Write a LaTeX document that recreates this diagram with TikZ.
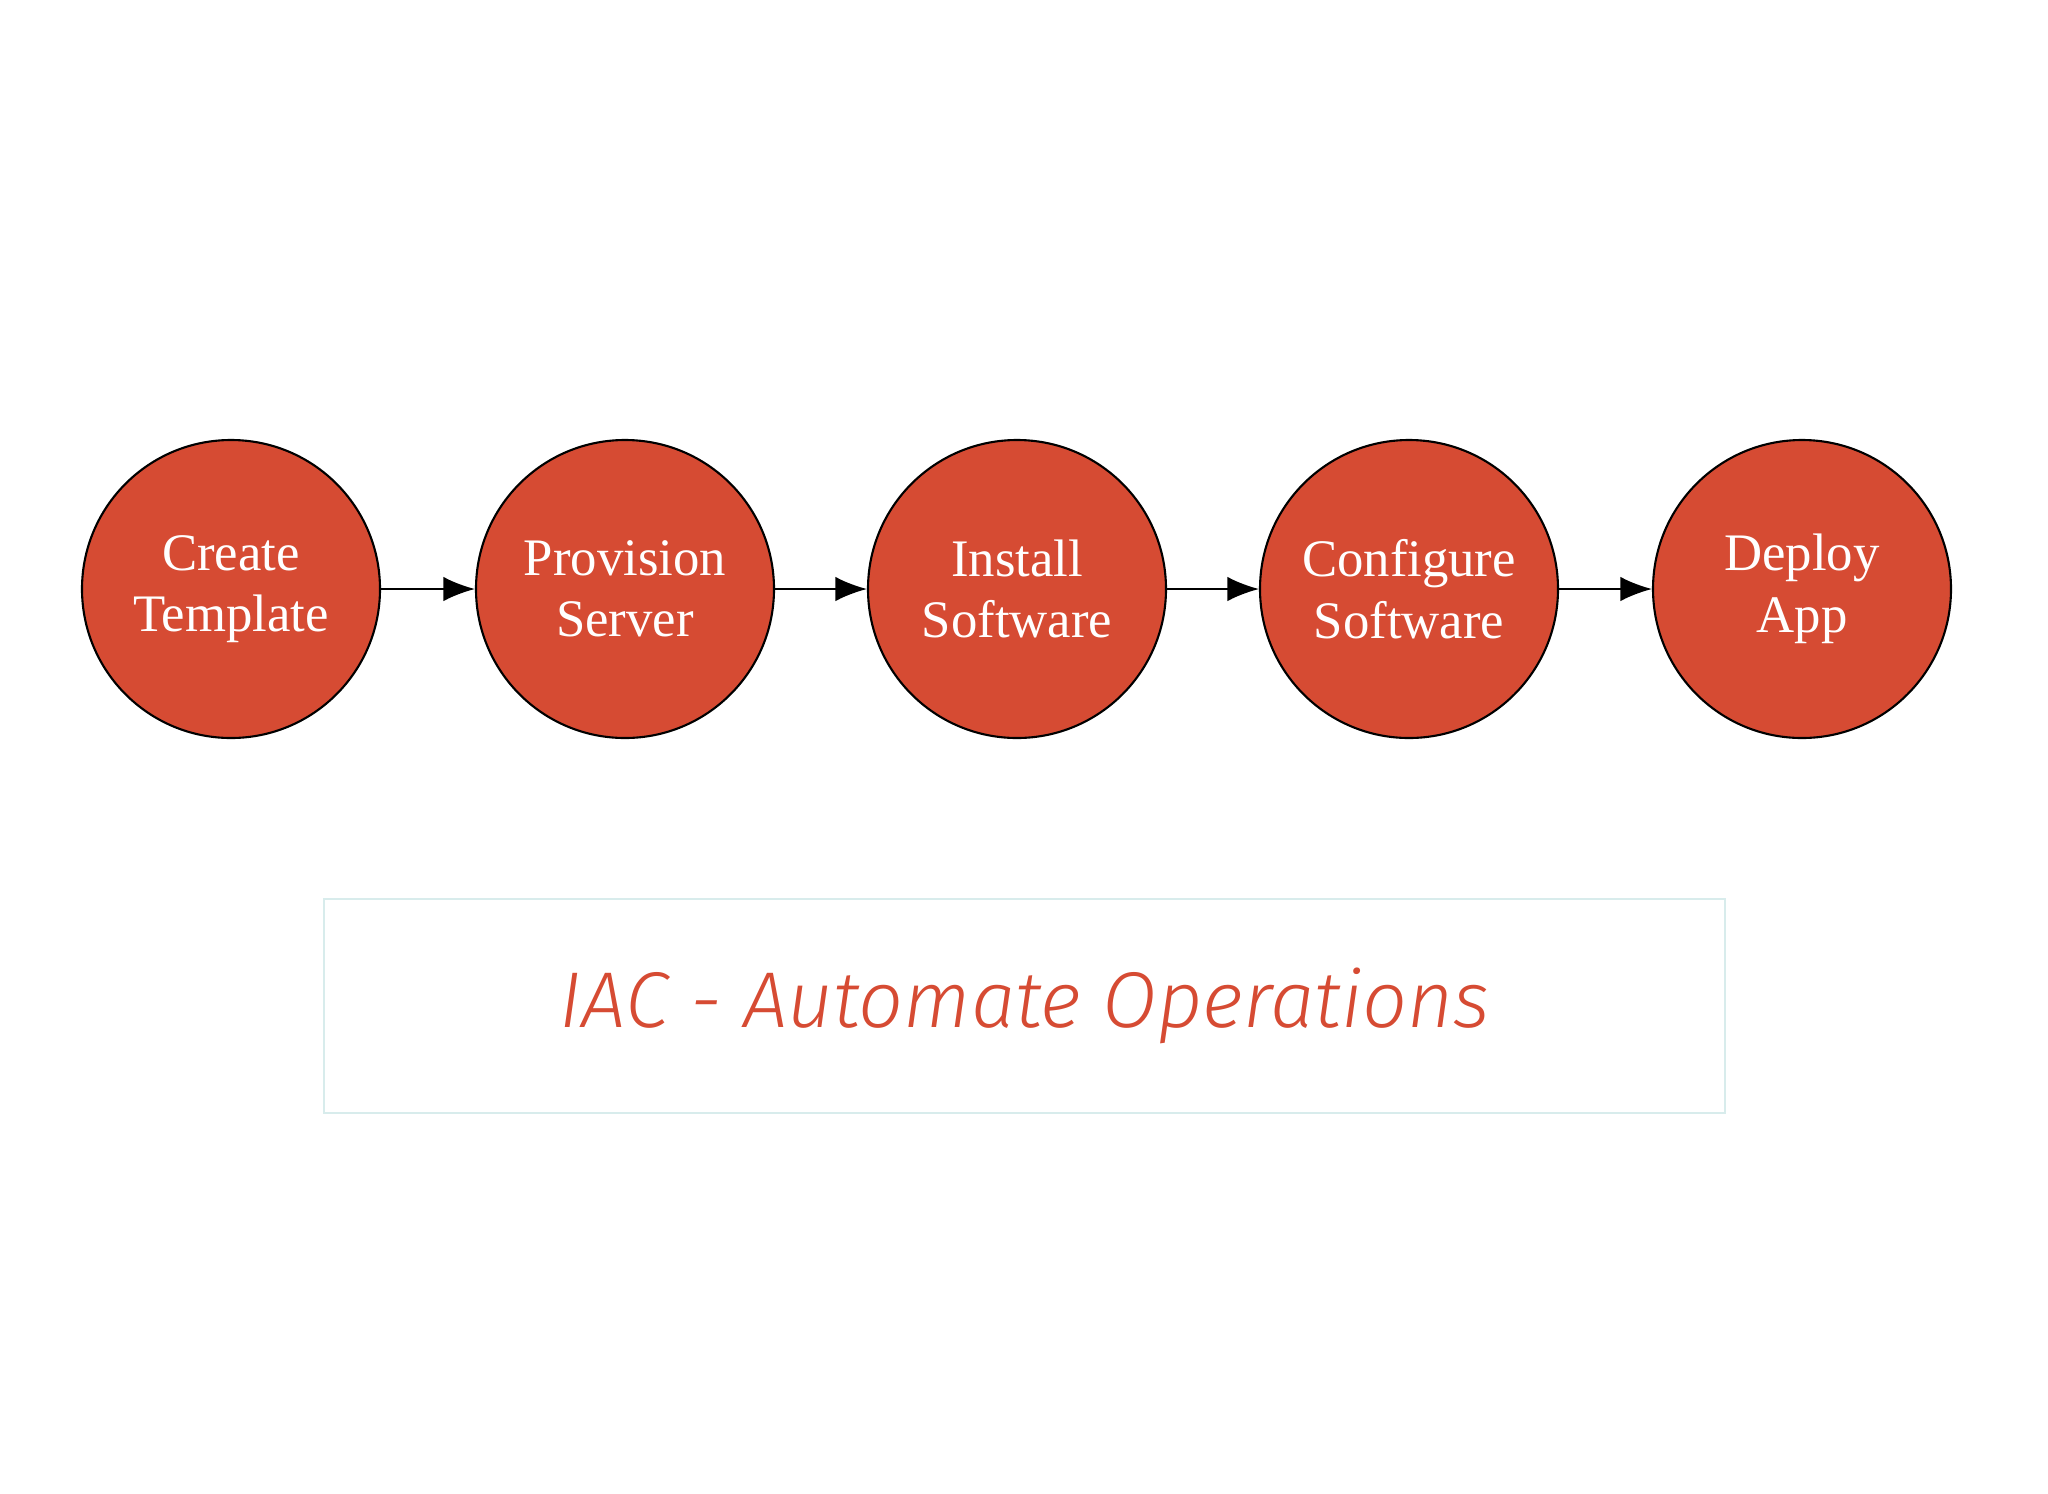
\documentclass[tikz,border=0pt]{standalone}
\usepackage{fontspec}
\setmainfont{Liberation Serif}
\newfontfamily\capfont{Fira Sans Light}
\usetikzlibrary{arrows.meta}
\definecolor{nodered}{HTML}{D64B33}
\definecolor{boxline}{HTML}{D8ECEC}
\tikzset{
  stepnode/.style={circle,draw=black,line width=0.6pt,fill=nodered,minimum size=298*0.01cm,inner sep=0pt,
    text=white,align=center,font=\fontsize{15}{17.5}\selectfont},
  flow/.style={-{Latex[length=9pt,width=7pt]},line width=0.6pt}
}
\begin{document}
\begin{tikzpicture}[x=0.01cm,y=-0.01cm]
\useasboundingbox (0,0) rectangle (2048,1493);
\node[stepnode] (a) at (231,589) {Create\\Template};
\node[stepnode] (b) at (625,589) {Provision\\Server};
\node[stepnode] (c) at (1017,589) {Install\\Software};
\node[stepnode] (d) at (1409,589) {Configure\\Software};
\node[stepnode] (e) at (1802,589) {Deploy\\App};
\draw[flow] (a) -- (b);
\draw[flow] (b) -- (c);
\draw[flow] (c) -- (d);
\draw[flow] (d) -- (e);
\node[draw=boxline,line width=0.6pt,minimum width=1401*0.01cm,minimum height=214*0.01cm] (box) at (1024.5,1006) {};
\node[text=nodered,font=\capfont\itshape\fontsize{22.5}{26}\selectfont] (cap) at (box.center) {IAC - Automate Operations};
\end{tikzpicture}
\end{document}
